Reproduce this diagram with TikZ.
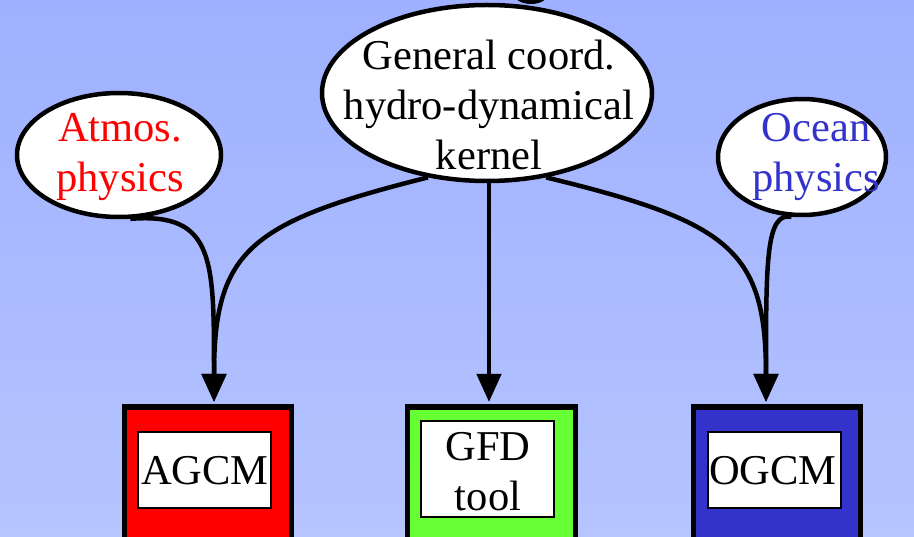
\documentclass[tikz,border=0pt]{standalone}
\usepackage{fontspec}
\setmainfont{Liberation Serif}
\usetikzlibrary{shapes.geometric,arrows.meta}
\definecolor{bgtop}{RGB}{158,176,255}
\definecolor{bgbot}{RGB}{182,196,255}
\definecolor{oceanblue}{RGB}{51,51,204}
\definecolor{gfdgreen}{RGB}{102,255,51}
\tikzset{
  bubble/.style={ellipse, draw=black, line width=4.5pt, fill=white, inner sep=0pt},
  txt/.style={align=center, font=\fontsize{42.5}{50}\selectfont, inner sep=0pt},
  outerbox/.style={draw=black, line width=5.5pt, inner sep=0pt},
  innerbox/.style={draw=black, line width=2pt, fill=white, inner sep=0pt},
  conn/.style={line width=4.5pt, -{Triangle[length=28pt,width=24pt]}}
}
\begin{document}
\begin{tikzpicture}[x=1pt,y=-1pt]
\useasboundingbox (0,0) rectangle (914,537);
\shade[top color=bgtop, bottom color=bgbot] (0,0) rectangle (914,537);
\fill[black] (531,-6) ellipse [x radius=17, y radius=10];
% ellipses
\node[bubble, minimum width=330pt, minimum height=176pt] (kern) at (487,93) {};
\node[txt] (kernt) at (489,105) {General coord.\\hydro-dynamical\\kernel};
\node[bubble, minimum width=204pt, minimum height=124pt] (atm) at (119,155) {};
\node[txt, text=red] (atmt) at (120,157) {Atmos.\\physics};
\node[bubble, minimum width=168pt, minimum height=116pt] (ocn) at (802,157) {};
\node[txt, text=oceanblue] (ocnt) at (816,157) {Ocean\\physics};
% boxes
\node[outerbox, fill=red, minimum width=167pt, minimum height=150pt, anchor=north west] (agcmo) at (121.5,404.5) {};
\node[innerbox, minimum width=133pt, minimum height=76pt] (agcm) at (204.5,470) {};
\node[txt] (agcmt) at (205,471) {AGCM};
\node[outerbox, fill=gfdgreen, minimum width=168pt, minimum height=150pt, anchor=north west] (gfdo) at (404.5,404.5) {};
\node[innerbox, minimum width=133pt, minimum height=96pt] (gfd) at (487.5,469) {};
\node[txt] (gfdt) at (488,472) {GFD\\tool};
\node[outerbox, fill=oceanblue, minimum width=167pt, minimum height=150pt, anchor=north west] (ogcmo) at (690.5,404.5) {};
\node[innerbox, minimum width=133pt, minimum height=76pt] (ogcm) at (774.5,470) {};
\node[txt] (ogcmt) at (773,471) {OGCM};
% connectors
\coordinate (ta) at (214,402);
\coordinate (tg) at (489,402);
\coordinate (to) at (766,402);
\draw[conn] (kern.-125) .. controls (250,222) and (214,250) .. (ta);
\draw[conn] (atm.-80) .. controls (215,212) and (214,260) .. (ta);
\draw[conn] (489,181) -- (tg);
\draw[conn] (kern.-55) .. controls (730,222) and (766,250) .. (to);
\draw[conn] (ocn.-100) .. controls (766,212) and (766,260) .. (to);
\end{tikzpicture}
\end{document}
